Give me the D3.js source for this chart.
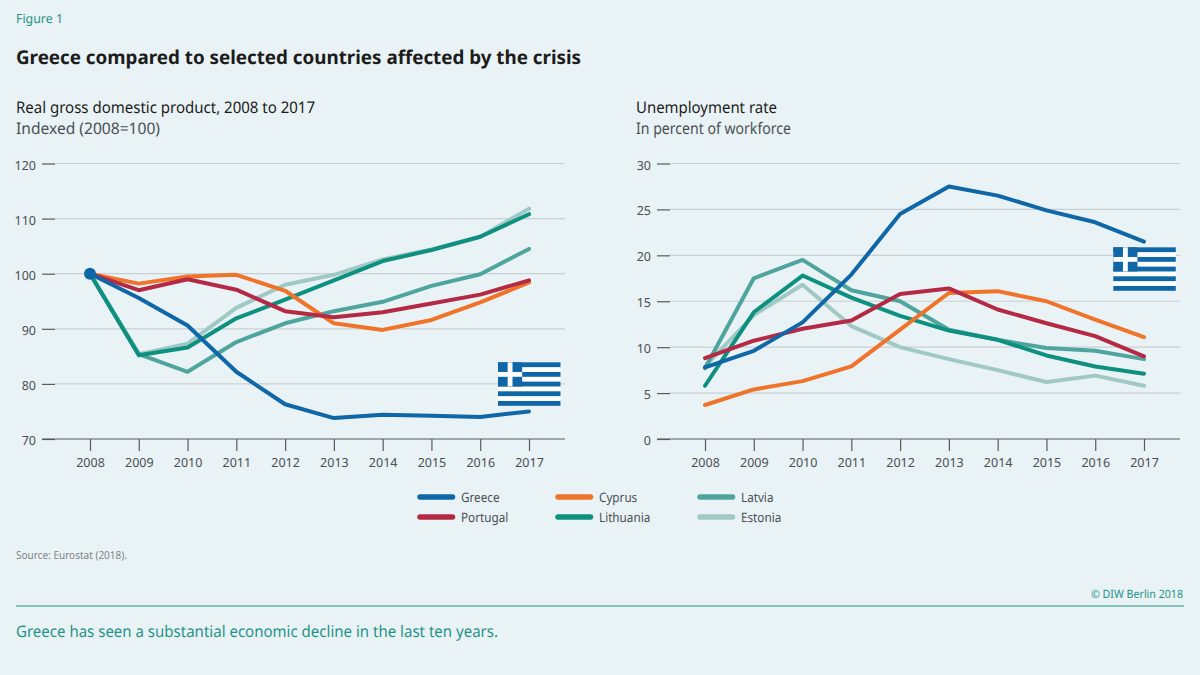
<!DOCTYPE html>
<html><head><meta charset="utf-8">
<script src="https://d3js.org/d3.v7.min.js"></script>
<style>
html,body{margin:0;padding:0;background:#e9f2f4}
svg{display:block}
text{font-family:"Noto Sans",sans-serif;text-rendering:geometricPrecision}
</style></head><body><svg id="c" width="1200" height="675"></svg>
<script>
const years=[2008,2009,2010,2011,2012,2013,2014,2015,2016,2017];
const seriesNames=["Estonia","Latvia","Lithuania","Cyprus","Portugal","Greece"];
const seriesColors=["#a0c9c5","#4fa59e","#0e9080","#f0732a","#b42a45","#0f67a8"];
const gdpEstonia=[100,85.4,87.3,93.8,98.0,99.8,102.6,104.4,106.7,111.8];
const gdpLatvia=[100,85.4,82.2,87.6,91.0,93.2,94.9,97.8,99.9,104.5];
const gdpLithuania=[100,85.2,86.6,91.9,95.3,98.8,102.3,104.3,106.7,110.8];
const gdpCyprus=[100,98.2,99.5,99.8,96.9,91.0,89.8,91.6,94.8,98.4];
const gdpPortugal=[100,97.0,99.0,97.1,93.2,92.1,93.0,94.6,96.2,98.8];
const gdpGreece=[100,95.6,90.6,82.2,76.3,73.8,74.4,74.2,74.0,75.0];
const unEstonia=[7.9,13.5,16.8,12.3,10.0,8.7,7.5,6.2,6.9,5.8];
const unLatvia=[7.7,17.5,19.5,16.2,15.0,11.9,10.8,9.9,9.6,8.7];
const unLithuania=[5.8,13.8,17.8,15.4,13.4,11.8,10.8,9.1,7.9,7.1];
const unCyprus=[3.7,5.4,6.3,7.9,11.9,15.9,16.1,15.0,13.0,11.1];
const unPortugal=[8.8,10.7,12.0,12.9,15.8,16.4,14.1,12.6,11.2,9.0];
const unGreece=[7.8,9.6,12.7,17.9,24.5,27.5,26.5,24.9,23.6,21.5];
const gdpTicks=[70,80,90,100,110,120];
const unTicks=[0,5,10,15,20,25,30];
const legendRows=[["Greece","Cyprus","Latvia"],["Portugal","Lithuania","Estonia"]];

const svg=d3.select("#c");
const ink="#1c1c1c",grey="#4a5054",teal="#1f9488";
function txt(x,y,s,size,fill,opts={}){
  const t=svg.append("text").attr("x",x).attr("y",y).attr("font-size",size).attr("fill",fill).text(s);
  if(opts.weight)t.attr("font-weight",opts.weight);
  if(opts.anchor)t.attr("text-anchor",opts.anchor);
  if(opts.len)t.attr("textLength",opts.len).attr("lengthAdjust","spacingAndGlyphs");
  return t;
}
txt(16,23,"Figure 1",12.5,teal,{len:47});
txt(16,64,"Greece compared to selected countries affected by the crisis",19,ink,{weight:700,len:565});
txt(16,113,"Real gross domestic product, 2008 to 2017",16,ink,{len:299});
txt(16,134,"Indexed (2008=100)",16,grey,{len:144});
txt(636,113,"Unemployment rate",16,ink,{len:141});
txt(636,134,"In percent of workforce",16,grey,{len:155});

function panel(x0,x1,gridL,gridR,yTop,yBot,domain,ticks,data,flagX,flagY){
  const x=d3.scalePoint().domain(years).range([x0,x1]);
  const y=d3.scaleLinear().domain(domain).range([yBot,yTop]);
  const g=svg.append("g");
  g.append("g").selectAll("line").data(ticks.filter(t=>t!==domain[0])).join("line")
    .attr("x1",gridL+13).attr("x2",gridR).attr("y1",d=>y(d)).attr("y2",d=>y(d))
    .attr("stroke","#c9d0d3").attr("stroke-width",1.2);
  const ya=g.append("g").attr("transform",`translate(${gridL+13},0)`)
    .call(d3.axisLeft(y).tickValues(ticks).tickSize(13).tickPadding(6));
  ya.select(".domain").remove();
  ya.selectAll("line").attr("stroke","#555b5f").attr("stroke-width",1.2);
  ya.selectAll("text").attr("font-size",12.5).attr("fill",grey).attr("y",1.5).attr("font-family",'"Noto Sans",sans-serif');
  const xa=g.append("g").attr("transform",`translate(0,${yBot})`)
    .call(d3.axisBottom(x).tickFormat(d3.format("d")).tickSize(12).tickPadding(7));
  xa.select(".domain").remove();
  xa.selectAll("line").attr("stroke","#555b5f").attr("stroke-width",1.2);
  xa.selectAll("text").attr("font-size",12.5).attr("fill",grey).attr("font-family",'"Noto Sans",sans-serif');
  g.append("line").attr("x1",gridL).attr("x2",gridR).attr("y1",yBot).attr("y2",yBot)
    .attr("stroke","#555b5f").attr("stroke-width",1.2);
  drawFlag(flagX,flagY);
  const line=d3.line().x((d,i)=>x(years[i])).y(d=>y(d));
  seriesNames.forEach((n,i)=>{
    g.append("path").datum(data[i]).attr("d",line).attr("fill","none")
      .attr("stroke",seriesColors[i]).attr("stroke-width",4)
      .attr("stroke-linejoin","round").attr("stroke-linecap","round");
  });
  return {x,y,g};
}
function drawFlag(fx,fy){
  const W=62.5,H=43.5,s=H/9,blue="#0f67a8";
  const f=svg.append("g").attr("transform",`translate(${fx},${fy})`);
  f.append("rect").attr("width",W).attr("height",H).attr("fill","#ffffff");
  d3.range(0,9,2).forEach(i=>{
    f.append("rect").attr("x",0).attr("y",i*s).attr("width",W).attr("height",s).attr("fill",blue);
  });
  f.append("rect").attr("width",s*5).attr("height",s*5).attr("fill",blue);
  f.append("rect").attr("x",s*2).attr("width",s).attr("height",s*5).attr("fill","#ffffff");
  f.append("rect").attr("y",s*2).attr("width",s*5).attr("height",s).attr("fill","#ffffff");
}
const left=panel(90,529,42,565,163.5,439,[70,120],gdpTicks,
  [gdpEstonia,gdpLatvia,gdpLithuania,gdpCyprus,gdpPortugal,gdpGreece],498,362.3);
left.g.append("circle").attr("cx",left.x(2008)).attr("cy",left.y(100)).attr("r",6).attr("fill","#0f67a8");
panel(705,1144,657,1180,163.5,439,[0,30],unTicks,
  [unEstonia,unLatvia,unLithuania,unCyprus,unPortugal,unGreece],1113.3,247.3);

const colX=[420,558,700], rowY=[497,517];
legendRows.forEach((row,r)=>row.forEach((n,c)=>{
  const col=seriesColors[seriesNames.indexOf(n)];
  svg.append("line").attr("x1",colX[c]).attr("x2",colX[c]+32.5).attr("y1",rowY[r]).attr("y2",rowY[r])
    .attr("stroke",col).attr("stroke-width",5.5).attr("stroke-linecap","round");
  const t=txt(colX[c]+41,rowY[r]+4.5,n,13,grey);
  t.attr("textLength",t.node().getComputedTextLength()*0.9).attr("lengthAdjust","spacingAndGlyphs");
}));

txt(16,559,"Source: Eurostat (2018).",11,"#7d8487",{len:111});
txt(1183,598,"© DIW Berlin 2018",11.5,teal,{anchor:"end",len:92});
svg.append("line").attr("x1",16).attr("x2",1184).attr("y1",606).attr("y2",606).attr("stroke",teal).attr("stroke-width",1.2);
txt(16,637,"Greece has seen a substantial economic decline in the last ten years.",16,teal,{len:482});
</script></body></html>
